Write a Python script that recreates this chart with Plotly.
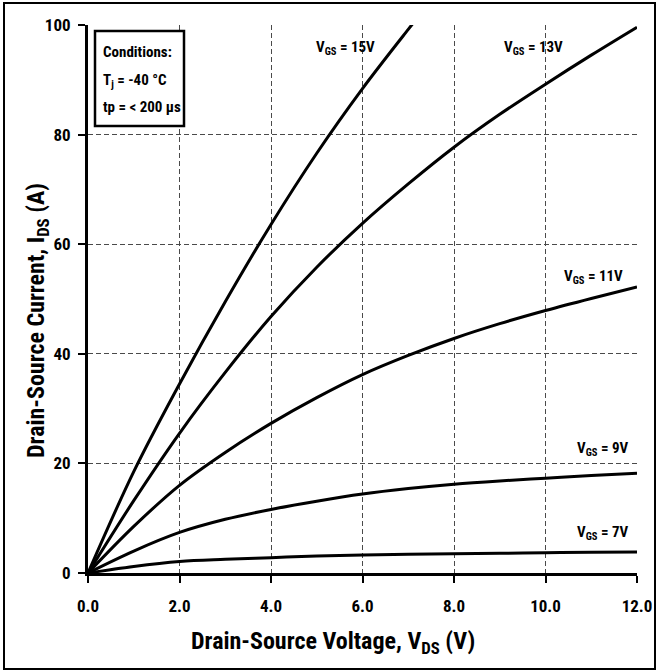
import plotly.graph_objects as go

# ---- data ----
vds = [0, 1, 2, 3, 4, 5, 6, 7, 8, 9, 10, 11, 12]
vds_15 = [0, 1, 2, 3, 4, 5, 6, 7, 7.2]

i_7v = [0, 1.2, 2.1, 2.5, 2.8, 3.1, 3.3, 3.4, 3.5, 3.6, 3.7, 3.8, 3.85]
i_9v = [0, 4.0, 7.4, 9.8, 11.6, 13.1, 14.4, 15.4, 16.2, 16.8, 17.3, 17.8, 18.2]
i_11v = [0, 8.5, 16.0, 22.0, 27.3, 32.0, 36.2, 39.7, 42.8, 45.5, 47.9, 50.1, 52.2]
i_13v = [0, 13.2, 25.5, 36.6, 46.8, 55.8, 63.8, 71.0, 77.7, 83.7, 89.2, 94.5, 99.6]
i_15v = [0, 18.5, 34.5, 49.5, 63.6, 76.6, 88.4, 99.2, 101.3]

x_ticks = [0, 2, 4, 6, 8, 10, 12]
y_ticks = [0, 20, 40, 60, 80, 100]

labels = ["V<sub>GS</sub> = 15V", "V<sub>GS</sub> = 13V", "V<sub>GS</sub> = 11V",
          "V<sub>GS</sub> = 9V", "V<sub>GS</sub> = 7V"]
x_title = "Drain-Source Voltage, V<sub>DS</sub> (V)"
y_title = "Drain-Source Current, I<sub>DS</sub> (A)"
cond_lines = ["Conditions:", "T<sub>j</sub> = -40 °C", "tp = < 200 µs"]

FONT = "Liberation Sans Narrow, Roboto Condensed, Arial Narrow, Liberation Sans, sans-serif"

fig = go.Figure()
for xs, ys in [(vds, i_7v), (vds, i_9v), (vds, i_11v), (vds, i_13v), (vds_15, i_15v)]:
    fig.add_trace(go.Scatter(x=xs, y=ys, mode="lines",
                             line=dict(color="black", width=3, shape="spline", smoothing=1.0),
                             showlegend=False, hoverinfo="skip"))

W, H = 659, 672
L, R, T, B = 88, 22, 25, 99
pw, ph = W - L - R, H - T - B

def px(xp):
    return (xp - L) / pw

def py(yp):
    return (H - B - yp) / ph

axis_common = dict(
    showgrid=True, gridcolor="#4a4a4a", gridwidth=1, griddash="5px,3px",
    showline=True, linecolor="black", linewidth=3,
    ticks="outside", ticklen=7, tickwidth=2, tickcolor="black",
    tickfont=dict(family=FONT, size=17, color="black", weight="bold"),
    zeroline=False, automargin=False,
)

fig.update_xaxes(range=[0, 12], tickvals=x_ticks, tickformat=".1f",
                 ticklabelstandoff=9, **axis_common)
fig.update_yaxes(range=[0, 100], tickvals=y_ticks,
                 ticklabelstandoff=4, **axis_common)

# axis titles
fig.add_annotation(x=px(333), y=py(642), xref="paper", yref="paper", text=x_title,
                   showarrow=False, xanchor="center", yanchor="middle",
                   font=dict(family=FONT, size=24, color="black", weight="bold"))
fig.add_annotation(x=px(37), y=py(321), xref="paper", yref="paper", text=y_title,
                   showarrow=False, xanchor="center", yanchor="middle", textangle=-90,
                   font=dict(family=FONT, size=24, color="black", weight="bold"))

# curve labels
label_pos = [(345, 48), (533, 48), (593, 277), (603, 449), (603, 533)]
for txt, (lx, ly) in zip(labels, label_pos):
    fig.add_annotation(x=px(lx), y=py(ly), xref="paper", yref="paper", text=txt,
                       showarrow=False, xanchor="center", yanchor="middle",
                       font=dict(family=FONT, size=15, color="black", weight="bold"))

# conditions box
fig.add_shape(type="rect", xref="paper", yref="paper",
              x0=px(95), x1=px(184), y0=py(126), y1=py(31),
              line=dict(color="black", width=2.5), fillcolor="white", layer="above")
cond_y = [52, 81, 107]
for txt, ly in zip(cond_lines, cond_y):
    fig.add_annotation(x=px(101), y=py(ly), xref="paper", yref="paper", text=txt,
                       showarrow=False, xanchor="left", yanchor="middle",
                       font=dict(family=FONT, size=15, color="black", weight="bold"))

# outer frame
fig.add_shape(type="rect", xref="paper", yref="paper",
              x0=px(4), x1=px(655), y0=py(669), y1=py(3),
              line=dict(color="black", width=2), layer="above")

fig.update_layout(width=W, height=H, autosize=False,
                  margin=dict(l=L, r=R, t=T, b=B, autoexpand=False),
                  paper_bgcolor="white", plot_bgcolor="white",
                  font=dict(family=FONT, color="black"))

post = (
    "document.documentElement.style.margin='0';"
    "document.body.style.margin='0';"
    "document.body.style.overflow='hidden';"
)
fig.write_html("out.html",
               config={"responsive": False, "displayModeBar": False},
               post_script=post)
